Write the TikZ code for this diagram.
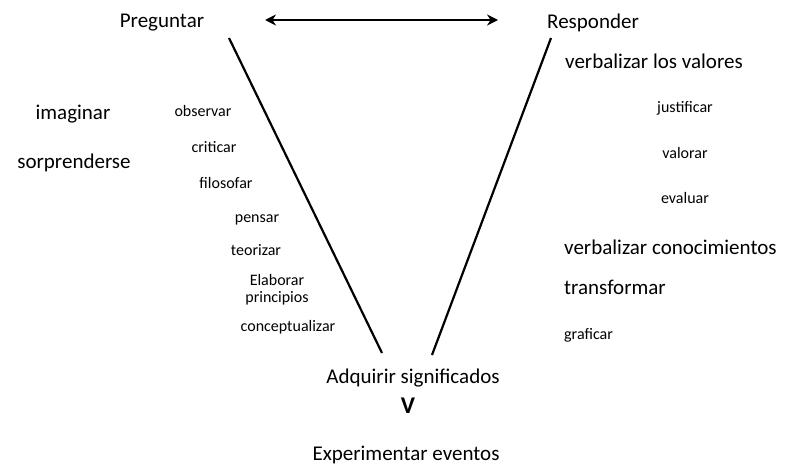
\documentclass[tikz,border=0pt]{standalone}
\usepackage{fontspec}
\setmainfont{Carlito}
\usetikzlibrary{arrows.meta,positioning}
\tikzset{x=1pt, y=-1pt, % one unit is one pixel of the reference, y grows downward
big/.style={font=\fontsize{21}{24}\selectfont, inner sep=1pt}, % main labels
small/.style={font=\fontsize{16}{17}\selectfont, inner sep=1pt}, % labels along the V
leg/.style={line width=2.2pt}, % the two sides of the V
}

\begin{document}
\begin{tikzpicture}
\useasboundingbox (0,0) rectangle (789,465);
% top of the V
\node[big] (preg) at (162,23) {Preguntar};
\node[big, anchor=west] (resp) at (546,23) {Responder};
\coordinate (al) at (265,20);
\coordinate (ar) at (498,20);
\draw[line width=2.6pt, {Stealth[length=11pt,width=11pt]}-{Stealth[length=11pt,width=11pt]}] (al) -- (ar);
% the sides
\coordinate (lt) at (229,38);
\coordinate (lb) at (382,353);
\coordinate (rt) at (551,38);
\coordinate (rb) at (432,355);
\draw[leg] (lt) -- (lb);
\draw[leg] (rt) -- (rb);
% left side
\node[big] (imag) at (73,114) {imaginar};
\node[big] (sorp) at (74,163) {sorprenderse};
\node[small] (obs) at (203,111) {observar};
\node[small] (crit) at (214,147) {criticar};
\node[small] (filo) at (226,183) {filosofar};
\node[small] (pens) at (257,220) {pensar};
\node[small] (teor) at (256,250) {teorizar};
\node[small, align=center] (elab) at (277,290) {Elaborar\\principios};
\node[small] (conc) at (288,327) {conceptualizar};
% right side
\node[big, anchor=west] (verv) at (564,61) {verbalizar los valores};
\node[small] (just) at (685,108) {justificar};
\node[small] (valo) at (685,153) {valorar};
\node[small] (eval) at (685,198) {evaluar};
\node[big, anchor=west] (verc) at (563,247) {verbalizar conocimientos};
\node[big, anchor=west] (tran) at (563,287) {transformar};
\node[small, anchor=west] (graf) at (563,335) {graficar};
% bottom
\node[big] (adq) at (413,378) {Adquirir significados};
\node[font=\fontsize{24}{26}\selectfont\bfseries, inner sep=0pt] (vee) at (408,406) {V};
\node[big] (exp) at (406,455) {Experimentar eventos};
\end{tikzpicture}
\end{document}
